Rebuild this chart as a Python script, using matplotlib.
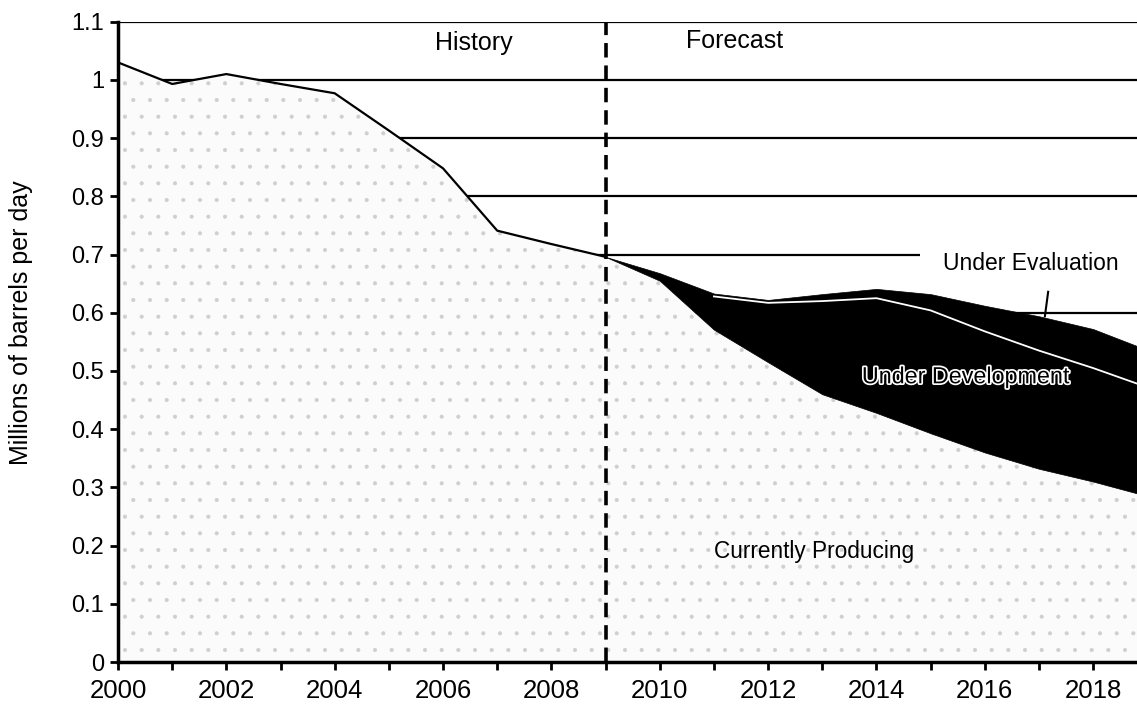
import matplotlib
matplotlib.use('Agg')
import matplotlib.pyplot as plt
import matplotlib.patheffects as pe
import numpy as np

plt.rcParams['font.family'] = ['Liberation Sans', 'DejaVu Sans']
plt.rcParams['hatch.linewidth'] = 0.5

# history (currently producing, actual)
hist_years = np.arange(2000, 2010)
hist_prod = [1.03, 0.993, 1.01, 0.993, 0.977, 0.913, 0.848, 0.741, 0.718, 0.696]

# forecast, stacked components
fc_years = np.arange(2009, 2020)
fc_prod = [0.696, 0.655, 0.571, 0.515, 0.46, 0.428, 0.393, 0.36, 0.332, 0.31, 0.285]
fc_dev = [0.0, 0.010, 0.057, 0.102, 0.16, 0.197, 0.211, 0.208, 0.203, 0.195, 0.187]
fc_eval = [0.0, 0.003, 0.005, 0.005, 0.012, 0.016, 0.028, 0.044, 0.059, 0.067, 0.064]

yticks = [0, 0.1, 0.2, 0.3, 0.4, 0.5, 0.6, 0.7, 0.8, 0.9, 1, 1.1]
ytick_labels = ['0', '0.1', '0.2', '0.3', '0.4', '0.5', '0.6', '0.7', '0.8', '0.9', '1', '1.1']

years = np.concatenate([hist_years, fc_years[1:]])
prod = np.concatenate([hist_prod, fc_prod[1:]])
dev_top = np.array(fc_prod) + np.array(fc_dev)
eval_top = dev_top + np.array(fc_eval)

fig = plt.figure(figsize=(11.37, 7.06), dpi=100)
ax = fig.add_axes([0.1038, 0.0623, 0.8962, 0.907])

# currently producing, stippled
ax.fill_between(years, 0, prod, facecolor='#fbfbfb', edgecolor='#cfcfcf',
                hatch='.', linewidth=0, zorder=2)
# under development + under evaluation, black
ax.fill_between(fc_years, fc_prod, eval_top, facecolor='black', edgecolor='black',
                linewidth=0.5, zorder=2)
ax.plot(fc_years[2:], dev_top[2:], color='white', lw=1.3, zorder=3)
ax.plot(hist_years, hist_prod, color='black', lw=1.6, zorder=3)

ax.axvline(2009, color='black', lw=2.6, dashes=(4, 2.2), zorder=4)

ax.set_xlim(2000, 2018.81)
ax.set_ylim(0, 1.1)
ax.set_yticks(yticks)
ax.set_yticklabels(ytick_labels)
ax.set_xticks(np.arange(2000, 2019))
ax.set_xticklabels([str(y) if y % 2 == 0 else '' for y in range(2000, 2019)])
ax.tick_params(axis='x', labelsize=18.5, length=6, width=2, pad=6)
ax.tick_params(axis='y', labelsize=17, length=6, width=2, pad=4)

ax.set_axisbelow(True)
ax.yaxis.grid(True, color='black', lw=1.6)
ax.xaxis.grid(False)
for s in ['top', 'right']:
    ax.spines[s].set_visible(False)
for s in ['left', 'bottom']:
    ax.spines[s].set_linewidth(2.5)
    ax.spines[s].set_zorder(5)

ax.set_ylabel('Millions of barrels per day', fontsize=18)
ax.yaxis.set_label_coords(-0.083, 0.53)

ax.text(2006.56, 1.064, 'History', fontsize=18, ha='center', va='center')
ax.text(2011.39, 1.066, 'Forecast', fontsize=18, ha='center', va='center')
ax.text(2016.85, 0.684, 'Under Evaluation', fontsize=16.5, ha='center', va='center',
        zorder=1.5, bbox=dict(boxstyle='square,pad=1.0', fc='white', ec='none'))
ax.plot([2017.17, 2017.11], [0.636, 0.594], color='black', lw=1.5, zorder=4)
ax.text(2015.65, 0.49, 'Under Development', fontsize=16.8, ha='center', va='center',
        color='black', zorder=4,
        path_effects=[pe.withStroke(linewidth=2.5, foreground='white')])
ax.text(2012.85, 0.19, 'Currently Producing', fontsize=16.3, ha='center', va='center',
        zorder=4)

fig.savefig('out.png', dpi=100)
